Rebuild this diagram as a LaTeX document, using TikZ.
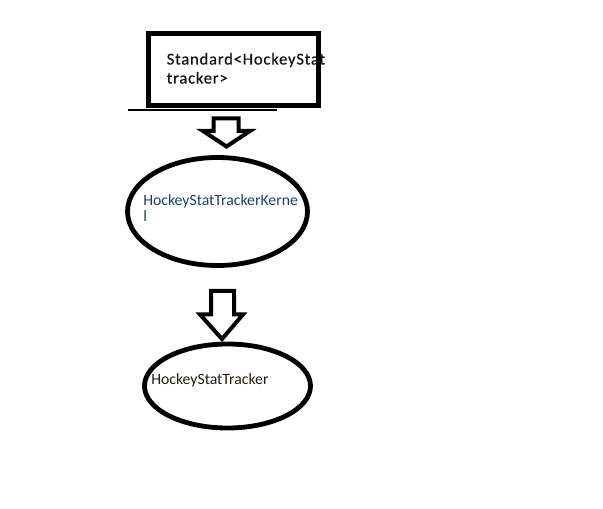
\documentclass[tikz,border=0pt]{standalone}
\usepackage{fontspec}
\setmainfont{Carlito}
\usetikzlibrary{shapes.geometric}
\definecolor{inkA}{RGB}{20,18,16}
\definecolor{inkB}{RGB}{28,64,112}
\definecolor{inkC}{RGB}{36,28,18}
\tikzset{
  thick outline/.style={draw=black, line width=3.6pt},
  blockarrow/.style={draw=black, line width=3pt, fill=white, line join=miter},
  label text/.style={anchor=base west, inner sep=0pt, font=\fontsize{11.8pt}{13pt}\selectfont},
  box text/.style={anchor=base west, inner sep=0pt, text=inkA, font=\fontsize{12.4pt}{14pt}\selectfont\addfontfeatures{LetterSpace=5,FakeBold=0.6}},
}
\begin{document}
\begin{tikzpicture}[x=0.75pt, y=-0.75pt]
\useasboundingbox (0,0) rectangle (603,509);
% top box text (overflows box)
\node[box text] (stdA) at (166.5,64.5) {Standard<HockeyStat};
\node[box text] (stdB) at (166.5,83.5) {tracker>};
\draw[thick outline] (148.5,33.5) rectangle (318.5,105.5);
\coordinate (ulA) at (128,110);
\coordinate (ulB) at (277,110);
\draw[line width=1.5pt] (ulA) -- (ulB);
% kernel ellipse
\node[ellipse, thick outline, minimum width=135pt, minimum height=81pt, inner sep=0pt] (kern) at (217.5,211.5) {};
\node[label text, text=inkB] (kernA) at (143,206) {HockeyStatTrackerKerne};
\node[label text, text=inkB] (kernB) at (143,222) {l};
% tracker ellipse
\node[ellipse, thick outline, minimum width=124.5pt, minimum height=63pt, inner sep=0pt] (trk) at (227.5,386) {};
\node[label text, text=inkC] (trkA) at (151,384) {HockeyStatTracker};
% block arrows
\draw[blockarrow] (213.5,118.5) -- (238.5,118.5) -- (238.5,131) -- (250,131) -- (226.5,146.5) -- (203,131) -- (213.5,131) -- cycle;
\draw[blockarrow] (211,291) -- (234,291) -- (234,314.5) -- (243,314.5) -- (222,339) -- (200,314.5) -- (211,314.5) -- cycle;
\end{tikzpicture}
\end{document}
